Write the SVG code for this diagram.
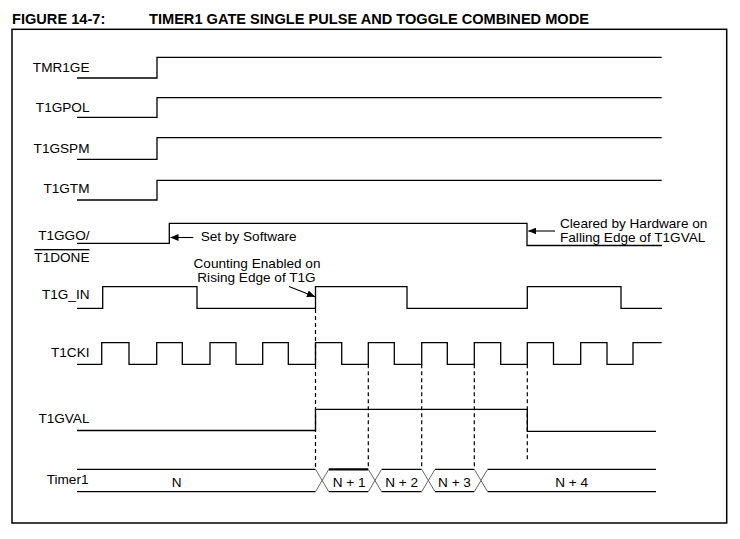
<svg xmlns="http://www.w3.org/2000/svg" width="740" height="539" viewBox="0 0 740 539">
<style>
  .sig { fill: none; stroke: #000; stroke-width: 1.3; }
  .lbl { font-family: "Liberation Sans", Arial, sans-serif; font-size: 13.6px; fill: #000; text-anchor: end; }
  .note { font-family: "Liberation Sans", Arial, sans-serif; font-size: 13.6px; fill: #000; }
  .bus { font-family: "Liberation Sans", Arial, sans-serif; font-size: 13.6px; fill: #000; text-anchor: middle; }
  .title { font-family: "Liberation Sans", Arial, sans-serif; font-size: 14.6px; font-weight: bold; fill: #000; }
  .dash { fill: none; stroke: #000; stroke-width: 1.2; stroke-dasharray: 4 3; }
  .cross { fill: none; stroke: #666; stroke-width: 1; }
  .arr { fill: none; stroke: #000; stroke-width: 1.1; marker-end: url(#ah); }
</style>
<defs>
  <marker id="ah" markerUnits="userSpaceOnUse" markerWidth="8" markerHeight="7" refX="8" refY="3.5" orient="auto">
    <path d="M0,0 L8,3.5 L0,7 z" fill="#000"/>
  </marker>
</defs>
<rect width="740" height="539" fill="#fff"/>
<text class="title" x="12" y="24">FIGURE 14-7:</text>
<text class="title" x="149" y="24">TIMER1 GATE SINGLE PULSE AND TOGGLE COMBINED MODE</text>
<rect x="12" y="29.3" width="714.7" height="493.7" fill="none" stroke="#000" stroke-width="1.5"/>

<g id="tmr1ge">
  <text class="lbl" x="89.5" y="71.7">TMR1GE</text>
  <polyline class="sig" points="77,78 157,78 157,57.3 661.7,57.3"/>
</g>
<g id="t1gpol">
  <text class="lbl" x="89.5" y="111.7">T1GPOL</text>
  <polyline class="sig" points="77,117.3 157,117.3 157,97.7 661.7,97.7"/>
</g>
<g id="t1gspm">
  <text class="lbl" x="89.5" y="152.5">T1GSPM</text>
  <polyline class="sig" points="77,159.3 157,159.3 157,137.7 661.7,137.7"/>
</g>
<g id="t1gtm">
  <text class="lbl" x="89.5" y="193.3">T1GTM</text>
  <polyline class="sig" points="77,200 157,200 157,180.3 661.7,180.3"/>
</g>
<g id="t1ggo">
  <text class="lbl" x="89.5" y="240">T1GGO/</text>
  <text class="lbl" x="89.5" y="262" text-decoration="overline">T1DONE</text>
  <polyline class="sig" points="77,243.3 169.3,243.3 169.3,223.3 527,223.3 527,245.5 662,245.5"/>
  <text class="note" x="200.7" y="241">Set by Software</text>
  <text class="note" x="560" y="227.7">Cleared by Hardware on</text>
  <text class="note" x="560" y="241.7">Falling Edge of T1GVAL</text>
</g>
<g id="t1g_in">
  <text class="lbl" x="89.5" y="299.3">T1G_IN</text>
  <polyline class="sig" points="77,308.3 102.7,308.3 102.7,286.7 197,286.7 197,308.3 315.5,308.3 315.5,286.7 407,286.7 407,308.3 527.3,308.3 527.3,286.7 621,286.7 621,308.3 662,308.3"/>
  <text class="note" x="257" y="267.7" text-anchor="middle">Counting Enabled on</text>
  <text class="note" x="256.5" y="282" text-anchor="middle">Rising Edge of T1G</text>
</g>
<g id="t1cki">
  <text class="lbl" x="89.5" y="356.7">T1CKI</text>
  <path class="sig" d="M77,364.3 H101.7 V342.7 H129 V364.3 H156.7 V342.7 H182.3 V364.3 H210 V342.7 H236 V364.3 H262.7 V342.7 H288.3 V364.3 H315.5 V342.7 H341.7 V364.3 H368.3 V342.7 H394.3 V364.3 H421.7 V342.7 H447.3 V364.3 H474.3 V342.7 H500.7 V364.3 H527.3 V342.7 H553.5 V364.3 H580.7 V342.7 H607 V364.3 H633 V342.7 H661.7"/>
</g>
<g id="t1gval">
  <text class="lbl" x="89.5" y="422.7">T1GVAL</text>
  <polyline class="sig" points="77,430.5 315.5,430.5 315.5,409.3 527.3,409.3 527.3,431.3 656,431.3"/>
</g>
<g id="timer1">
  <text class="lbl" x="88.5" y="484">Timer1</text>
  <path class="sig" d="M77,469.3 H315.5 M77,491.7 H315.5 M328.8,491.7 H368.3 M381.6,469.3 H421.7 M381.6,491.7 H421.7 M435,469.3 H474.3 M435,491.7 H474.3 M487.6,469.3 H656 M487.6,491.7 H656"/>
  <path d="M328.8,469.3 H368.3" stroke="#000" stroke-width="2.2" fill="none"/>
  <path class="cross" d="M315.5,469.3 L328.8,491.7 M315.5,491.7 L328.8,469.3 M368.3,469.3 L381.6,491.7 M368.3,491.7 L381.6,469.3 M421.7,469.3 L435,491.7 M421.7,491.7 L435,469.3 M474.3,469.3 L487.6,491.7 M474.3,491.7 L487.6,469.3"/>
  <text class="bus" x="176.7" y="486.5">N</text>
  <text class="bus" x="349.2" y="486.5">N + 1</text>
  <text class="bus" x="401.7" y="486.5">N + 2</text>
  <text class="bus" x="454.5" y="486.5">N + 3</text>
  <text class="bus" x="571.7" y="486.5">N + 4</text>
</g>
<g id="connectors">
  <path class="dash" d="M315.5,309 V469.3 M368.3,364.3 V469.3 M421.7,364.3 V469.3 M474.3,364.3 V469.3 M527.3,364.3 V462"/>
  <line class="arr" x1="193.3" y1="237.5" x2="170.5" y2="237.5"/>
  <line class="arr" x1="555" y1="231" x2="528.3" y2="231"/>
  <line class="arr" x1="289" y1="286.5" x2="315" y2="296.7"/>
</g>
</svg>
